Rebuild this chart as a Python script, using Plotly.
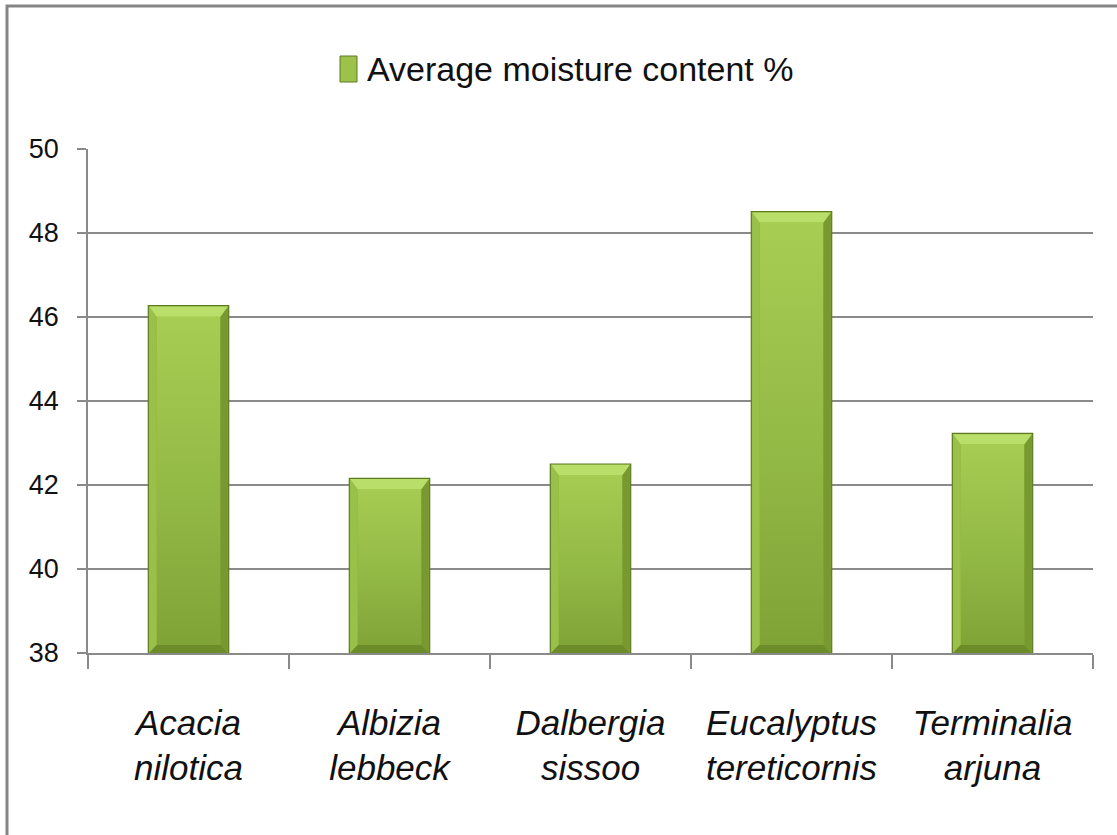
import plotly.graph_objects as go

# Species and their average moisture content (%)
species = ["Acacia nilotica", "Albizia lebbeck", "Dalbergia sissoo",
           "Eucalyptus tereticornis", "Terminalia arjuna"]
tick_labels = ["Acacia<br>nilotica", "Albizia<br>lebbeck", "Dalbergia<br>sissoo",
               "Eucalyptus<br>tereticornis", "Terminalia<br>arjuna"]
moisture = [46.27, 42.16, 42.50, 48.51, 43.23]
series_name = "Average moisture content %"
y_ticks = [38, 40, 42, 44, 46, 48, 50]

W, H = 1117, 835
ML, MR, MT, MB = 88, 24, 149, 182
PW, PH = W - ML - MR, H - MT - MB

Y_MIN, Y_MAX = 38, 50
BAR_W = 0.40
idx = list(range(len(species)))

GRID = "#8a8a8a"
FONT = "Liberation Sans, Arial, sans-serif"

fig = go.Figure()

# main bars
fig.add_trace(go.Bar(
    x=idx, y=moisture, width=BAR_W, name=series_name,
    marker=dict(color="#8cb03e", line=dict(color="#5c7b22", width=1.2)),
    customdata=species,
    hovertemplate="%{customdata}: %{y:.2f}%<extra></extra>",
    showlegend=False,
))

# bevel and gradient shading over each bar
hw = BAR_W / 2
dx = 7.5 / PW * (len(species))      # bevel width in x units
dyt = 11 / PH * (Y_MAX - Y_MIN)      # top bevel height
dyb = 8 / PH * (Y_MAX - Y_MIN)       # bottom bevel height
eps = 0.004


def poly_trace(xs, ys, color):
    return go.Scatter(x=xs, y=ys, mode="lines", fill="toself", fillcolor=color,
                      line=dict(width=0), hoverinfo="skip", showlegend=False)


top_x, top_y, bot_x, bot_y = [], [], [], []
lft_x, lft_y, rgt_x, rgt_y = [], [], [], []
for i, v in zip(idx, moisture):
    l, r = i - hw + eps, i + hw - eps
    top_x += [l, r, r - dx, l + dx, l, None]
    top_y += [v - 0.02, v - 0.02, v - dyt, v - dyt, v - 0.02, None]
    bot_x += [l, r, r - dx, l + dx, l, None]
    bot_y += [Y_MIN, Y_MIN, Y_MIN + dyb, Y_MIN + dyb, Y_MIN, None]
    lft_x += [l, l, l + dx, l + dx, l, None]
    lft_y += [Y_MIN, v - 0.02, v - dyt, Y_MIN + dyb, Y_MIN, None]
    rgt_x += [r, r, r - dx, r - dx, r, None]
    rgt_y += [Y_MIN, v - 0.02, v - dyt, Y_MIN + dyb, Y_MIN, None]
    # inner face with a vertical gradient
    fig.add_trace(go.Scatter(
        x=[l + dx, r - dx, r - dx, l + dx, l + dx],
        y=[Y_MIN + dyb, Y_MIN + dyb, v - dyt, v - dyt, Y_MIN + dyb],
        mode="lines", fill="toself", line=dict(width=0),
        fillgradient=dict(type="vertical",
                          colorscale=[[0, "#7fa236"], [0.5, "#95bb47"], [1, "#a8ce54"]],
                          start=Y_MIN, stop=v),
        hoverinfo="skip", showlegend=False,
    ))

fig.add_trace(poly_trace(lft_x, lft_y, "#99c049"))
fig.add_trace(poly_trace(rgt_x, rgt_y, "#77992f"))
fig.add_trace(poly_trace(bot_x, bot_y, "#6c8c2a"))
fig.add_trace(poly_trace(top_x, top_y, "#b9de69"))


def px_to_paper_x(px):
    return (px - ML) / PW


def px_to_paper_y(py):
    return (H - MB - py) / PH


# legend entry: swatch and label
fig.add_shape(type="rect", xref="paper", yref="paper",
              x0=px_to_paper_x(340), x1=px_to_paper_x(357),
              y0=px_to_paper_y(82), y1=px_to_paper_y(56),
              fillcolor="#9cc24b", line=dict(color="#5c7b22", width=1))
fig.add_annotation(xref="paper", yref="paper", x=px_to_paper_x(365), y=px_to_paper_y(69),
                   xanchor="left", yanchor="middle", showarrow=False,
                   text=series_name,
                   font=dict(family=FONT, size=34, color="#111111"))

# chart frame
fig.add_shape(type="rect", xref="paper", yref="paper",
              x0=px_to_paper_x(7), x1=px_to_paper_x(W + 20),
              y0=px_to_paper_y(H + 20), y1=px_to_paper_y(6),
              line=dict(color="#858585", width=3), fillcolor="rgba(0,0,0,0)", layer="below")

fig.update_layout(
    width=W, height=H,
    margin=dict(l=ML, r=MR, t=MT, b=MB, pad=0),
    paper_bgcolor="#ffffff", plot_bgcolor="#ffffff",
    showlegend=False,
    barmode="overlay",
    xaxis=dict(
        range=[-0.5, len(species) - 0.5], fixedrange=True,
        tickmode="array", tickvals=idx, ticktext=tick_labels,
        ticks="", showgrid=False, zeroline=False,
        showline=True, linecolor=GRID, linewidth=1.5,
        tickfont=dict(family=FONT, size=35, color="#111111", style="italic"),
        ticklabelstandoff=38,
        minor=dict(ticks="outside", ticklen=14, tickcolor=GRID, tickwidth=1.5,
                   tick0=-0.5, dtick=1, showgrid=False),
    ),
    yaxis=dict(
        range=[Y_MIN, Y_MAX], fixedrange=True,
        tickmode="array", tickvals=y_ticks,
        ticks="outside", ticklen=9, tickcolor=GRID, tickwidth=1.5,
        showgrid=True, gridcolor=GRID, gridwidth=1.5, zeroline=False,
        showline=True, linecolor=GRID, linewidth=1.5,
        tickfont=dict(family=FONT, size=27, color="#111111"),
        ticklabelstandoff=13,
    ),
)

fig.write_html("out.html")
